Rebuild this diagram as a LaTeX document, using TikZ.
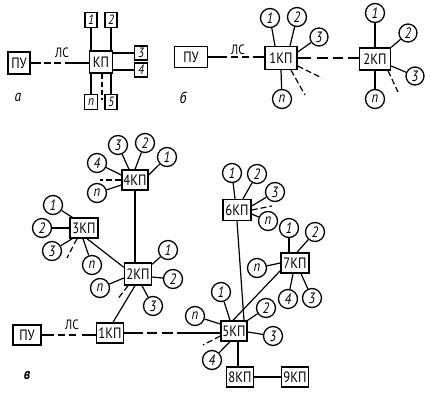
\documentclass[tikz,border=0pt]{standalone}
\usepackage{fontspec}
\newfontfamily\df[FakeStretch=0.85]{PT Sans}
\usetikzlibrary{calc}
\begin{document}
\begin{tikzpicture}[x=1pt,y=-1pt,
  kbox/.style={draw, line width=1.4pt, inner sep=0pt, font=\df\fontsize{15}{15}\selectfont},
  sbox/.style={draw, line width=1.3pt, inner sep=0pt, minimum width=12pt, minimum height=15pt, font=\df\itshape\fontsize{13.5}{13.5}\selectfont},
  circ/.style={draw, circle, line width=1.3pt, inner sep=0pt, minimum size=19pt, font=\df\itshape\fontsize{15}{15}\selectfont},
  ln/.style={line width=1.2pt},
  dl/.style={line width=1.2pt, dash pattern=on 6pt off 3pt},
  lbl/.style={font=\df\fontsize{13.5}{13.5}\selectfont, inner sep=0pt},
  part/.style={font=\df\itshape\fontsize{16}{16}\selectfont, inner sep=0pt}]
\useasboundingbox (0,0) rectangle (432,400);

% ---------- part a ----------
\node[kbox, minimum width=22pt, minimum height=22pt] (apu) at (19,63) {ПУ};
\node[kbox, minimum width=23pt, minimum height=22pt] (akp) at (101,62) {КП};
\node[sbox] (a1) at (91,20) {1};
\node[sbox] (a2) at (111,20) {2};
\node[sbox, minimum width=13pt, minimum height=14pt] (a3) at (141,53) {3};
\node[sbox, minimum width=13pt, minimum height=14pt] (a4) at (141,70) {4};
\node[sbox, minimum width=13pt] (an) at (91,102) {n};
\node[sbox] (a5) at (111,102) {5};
\node[lbl] (als) at (62,53) {ЛС};
\node[part] (la) at (18,97) {а};
\draw[ln, dash pattern=on 10pt off 3pt on 7pt off 3pt on 7pt off 4pt on 26pt] (apu.east) -- (apu.east -| akp.west);
\draw[ln] (a1.south) -- (a1.south |- akp.north);
\draw[ln] (a2.south) -- (a2.south |- akp.north);
\draw[ln] (a3.west) -- (a3.west -| akp.east);
\draw[ln] (a4.west) -- (a4.west -| akp.east);
\draw[ln] (an.north) -- (an.north |- akp.south);
\draw[ln] (a5.north) -- (a5.north |- akp.south);
\coordinate (ad1) at (102,100);
\draw[line width=1.2pt, dash pattern=on 5pt off 3pt] (ad1 |- akp.south) -- (ad1);

% ---------- part b ----------
\node[kbox, minimum width=33pt, minimum height=21pt] (bpu) at (191,57) {ПУ};
\node[lbl] (bls) at (238,50) {ЛС};
\node[kbox, minimum width=32pt, minimum height=23pt] (bk1) at (281,58) {1КП};
\node[kbox, minimum width=31pt, minimum height=22pt] (bk2) at (375,59) {2КП};
\node[circ] (b1c1) at (270,18) {1};
\node[circ] (b1c2) at (297,17) {2};
\node[circ, minimum size=18pt] (b1c3) at (319,37) {3};
\node[circ] (b1cn) at (282,99) {n};
\node[circ] (b2c1) at (375,13) {1};
\node[circ, minimum size=18pt] (b2c2) at (408,33) {2};
\node[circ, minimum size=18pt] (b2c3) at (415,76) {3};
\node[circ] (b2cn) at (375,99) {n};
\node[part] (lb) at (183,98) {б};
\draw[ln, dash pattern=on 19pt off 4pt on 7pt off 4pt on 7pt off 4pt on 12pt] (bpu.east) -- (bpu.east -| bk1.west);
\draw[ln, dash pattern=on 13pt off 6pt on 11pt off 5pt on 10pt off 5pt on 12pt] (bk1.east) -- (bk1.east -| bk2.west);
\draw[ln] ([xshift=-6pt]bk1.north) -- (b1c1);
\draw[ln] ([xshift=9pt]bk1.north) -- (b1c2);
\draw[ln] ([yshift=6pt]bk1.east) -- (b1c3);
\draw[ln] (bk1.south) -- (b1cn);
\coordinate (b1d1) at (305,95);
\coordinate (b1d2) at (322,78);
\draw[dl] ([xshift=10pt]bk1.south) -- (b1d1);
\draw[dl] ([yshift=-8pt]bk1.east) -- (b1d2);
\draw[ln] (bk2.north) -- (b2c1);
\draw[ln] (bk2.north east) -- (b2c2);
\draw[ln] ([yshift=-7pt]bk2.east) -- (b2c3);
\draw[ln] (bk2.south) -- (b2cn);
\coordinate (b2d) at (398,92);
\draw[dl] ([xshift=13pt]bk2.south) -- (b2d);

% ---------- part c ----------
\node[kbox, minimum width=26pt, minimum height=20pt] (k4) at (135,180) {4КП};
\node[circ] (k4c3) at (118,145) {3};
\node[circ] (k4c2) at (145,143) {2};
\node[circ] (k4c1) at (167,157) {1};
\node[circ] (k4c4) at (97,163) {4};
\node[circ] (k4cn) at (97,193) {n};
\draw[ln] ([xshift=-6pt]k4.north) -- (k4c3);
\draw[ln] (k4.north) -- (k4c2);
\draw[ln] ([yshift=5pt]k4.east) -- (k4c1);
\draw[ln] ([yshift=5pt]k4.west) -- (k4c4);
\draw[ln] ([yshift=-5pt]k4.west) -- (k4cn);
\coordinate (k4d) at (100,180);
\draw[dl] (k4.west) -- (k4d);

\node[kbox, minimum width=28pt, minimum height=20pt] (k3) at (84,228) {3КП};
\node[circ] (k3c1) at (53,205) {1};
\node[circ] (k3c2) at (42,228) {2};
\node[circ] (k3c3) at (52,251) {3};
\node[circ] (k3cn) at (92,265) {n};
\draw[ln] ([xshift=3pt]k3.north west) -- (k3c1);
\draw[ln] (k3.west) -- (k3c2);
\draw[ln] ([xshift=3pt]k3.south west) -- (k3c3);
\draw[ln] ([xshift=-1pt]k3.south) -- (k3cn);
\coordinate (k3d) at (67,258);
\draw[dl] ([xshift=-7pt]k3.south) -- (k3d);

\node[kbox, minimum width=27pt, minimum height=22pt] (k2) at (138,274) {2КП};
\node[circ] (k2c1) at (168,250) {1};
\node[circ] (k2c2) at (173,279) {2};
\node[circ] (k2c3) at (153,306) {3};
\node[circ] (k2cn) at (100,288) {n};
\draw[ln] ([yshift=-2pt]k2.north east) -- (k2c1);
\draw[ln] ([yshift=-3pt]k2.east) -- (k2c2);
\draw[ln] ([xshift=4pt]k2.south) -- (k2c3);
\draw[ln] ([yshift=-4pt]k2.west) -- (k2cn);
\coordinate (k2d) at (117,300);
\draw[dl] ([xshift=-10pt]k2.south) -- (k2d);
\draw[ln] ([xshift=3pt]k3.south) -- ([yshift=-5pt]k2.north west);
\draw[ln] (k4.south) -- (k4.south |- k2.north);

\node[kbox, minimum width=28pt, minimum height=20pt] (cpu) at (27,335) {ПУ};
\node[lbl] (cls) at (72,325) {ЛС};
\node[kbox, minimum width=27pt, minimum height=20pt] (k1) at (110,333) {1КП};
\draw[ln] ([xshift=-3pt]k2.south) -- ([xshift=3pt]k1.north);
\draw[ln, dash pattern=on 12pt off 4pt on 7pt off 4pt on 7pt off 6pt on 16pt] (cpu.east) -- (cpu.east -| k1.west);

\node[kbox, minimum width=26pt, minimum height=20pt] (k5) at (234,331) {5КП};
\draw[ln, dash pattern=on 19pt off 4pt on 10pt off 5pt on 11pt off 4pt on 50pt] (k1.east) -- (k1.east -| k5.west);
\node[circ] (k5c1) at (221,292) {1};
\node[circ] (k5cn) at (195,316) {n};
\node[circ] (k5c2) at (266,308) {2};
\node[circ] (k5c3) at (273,336) {3};
\node[circ] (k5c4) at (212,360) {4};
\draw[ln] ([xshift=-4pt]k5.north) -- (k5c1);
\draw[ln] ([yshift=7pt]k5.west) -- (k5cn);
\draw[ln] (k5.north east) -- (k5c2);
\draw[ln] ([yshift=-1pt]k5.east) -- (k5c3);
\draw[ln] ([xshift=-4pt]k5.south) -- (k5c4);
\coordinate (k5d) at (203,345);
\draw[dl] ([yshift=-5pt]k5.west) -- (k5d);

\node[kbox, minimum width=27pt, minimum height=20pt] (k8) at (240,377) {8КП};
\node[kbox, minimum width=27pt, minimum height=20pt] (k9) at (295,377) {9КП};
\draw[ln] ([xshift=4pt]k5.south) -- ([xshift=4pt]k5.south |- k8.north);
\draw[ln] (k8.east) -- (k9.west);

\node[kbox, minimum width=28pt, minimum height=20pt] (k7) at (295,263) {7КП};
\node[circ] (k7c1) at (289,228) {1};
\node[circ] (k7c2) at (315,232) {2};
\node[circ] (k7cn) at (257,268) {n};
\node[circ] (k7c4) at (288,299) {4};
\node[circ] (k7c3) at (312,298) {3};
\draw[ln] ([xshift=-1pt]k5.north) -- ([yshift=3pt]k7.south west);
\draw[ln] (k7c1) -- (k7c1 |- k7.north);
\draw[ln] ([xshift=2pt]k7.north) -- (k7c2);
\draw[ln] (k7.west) -- (k7cn);
\draw[ln] ([xshift=-2pt]k7.south) -- (k7c4);
\draw[ln] ([xshift=6pt]k7.south) -- (k7c3);

\node[kbox, minimum width=28pt, minimum height=21pt] (k6) at (237,210) {6КП};
\node[circ] (k6c1) at (232,173) {1};
\node[circ] (k6c2) at (257,174) {2};
\node[circ] (k6c3) at (275,192) {3};
\node[circ] (k6cn) at (268,221) {n};
\draw[ln] ([xshift=-2pt]k6.north) -- (k6c1);
\draw[ln] ([xshift=6pt]k6.north) -- (k6c2);
\draw[ln] ([yshift=4pt]k6.east) -- (k6c3);
\draw[ln] ([yshift=-4pt]k6.east) -- (k6cn);
\coordinate (k6d) at (272,206);
\draw[dl] (k6.east) -- (k6d);
\draw[ln] (k6.south) -- ([xshift=10pt]k5.north);

\node[part, font=\df\bfseries\itshape\fontsize{16}{16}\selectfont] (lc) at (27,375) {в};
\end{tikzpicture}
\end{document}
